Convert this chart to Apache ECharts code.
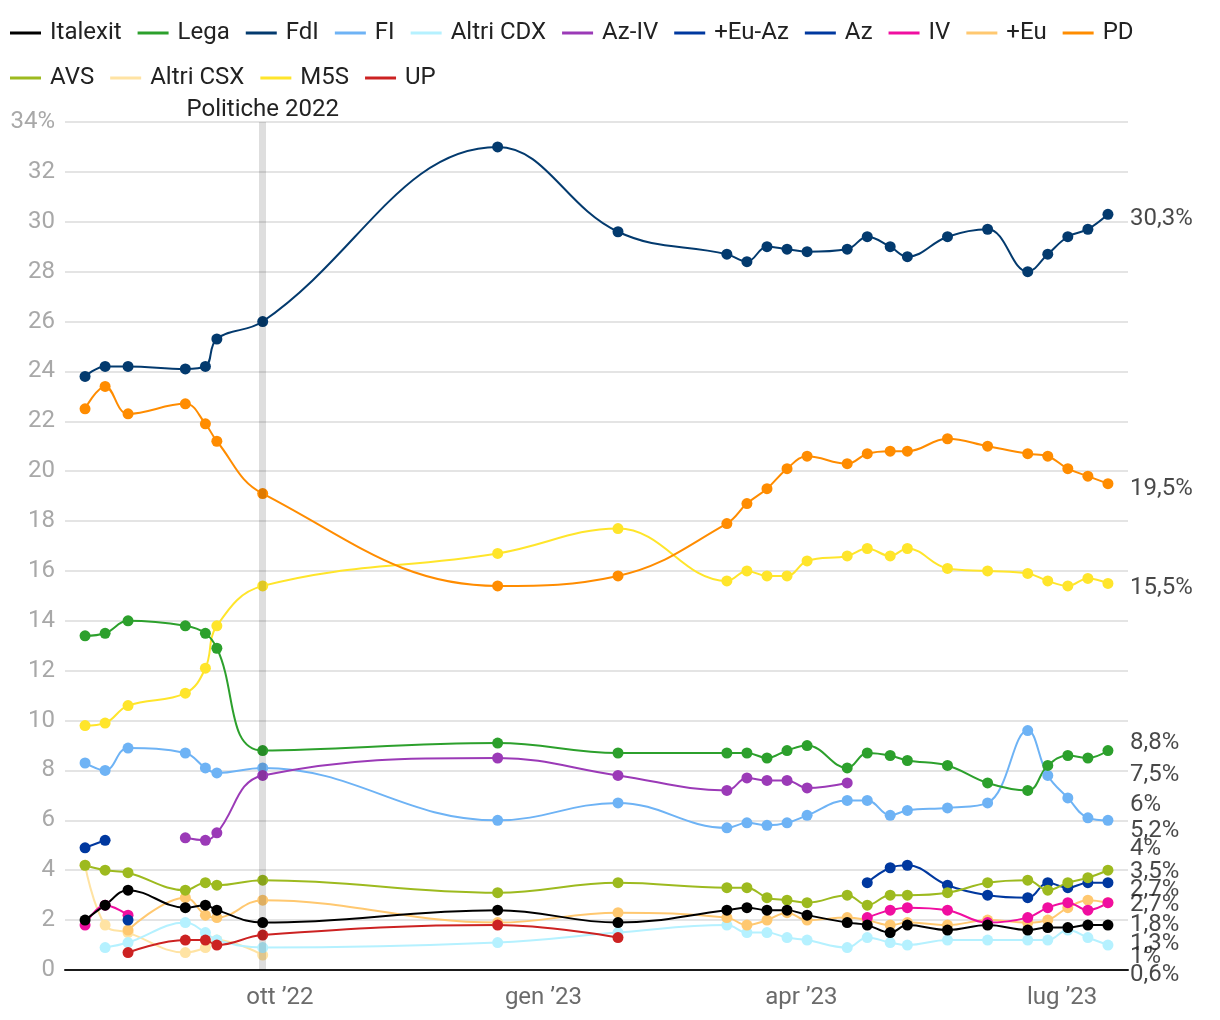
<!DOCTYPE html>
<html><head><meta charset="utf-8">
<script src="https://cdn.jsdelivr.net/npm/echarts@6/dist/echarts.min.js"></script>
<style>html,body{margin:0;padding:0;background:#fff}#chart{width:1220px;height:1020px}</style>
</head><body><div id="chart"></div>
<script>
// ---------- DATA ----------
const dates = ['2022-07-25','2022-08-01','2022-08-09','2022-08-29','2022-09-05','2022-09-09','2022-09-25',
  '2022-12-16','2023-01-27','2023-03-06','2023-03-13','2023-03-20','2023-03-27','2023-04-03','2023-04-17',
  '2023-04-24','2023-05-02','2023-05-08','2023-05-22','2023-06-05','2023-06-19','2023-06-26','2023-07-03',
  '2023-07-10','2023-07-17'];
const italexit = [2.0,2.6,3.2,2.5,2.6,2.4,1.9,2.4,1.9,2.4,2.5,2.4,2.4,2.2,1.9,1.8,1.5,1.8,1.6,1.8,1.6,1.7,1.7,1.8,1.8];
const lega     = [13.4,13.5,14.0,13.8,13.5,12.9,8.8,9.1,8.7,8.7,8.7,8.5,8.8,9.0,8.1,8.7,8.6,8.4,8.2,7.5,7.2,8.2,8.6,8.5,8.8];
const fdi      = [23.8,24.2,24.2,24.1,24.2,25.3,26.0,33.0,29.6,28.7,28.4,29.0,28.9,28.8,28.9,29.4,29.0,28.6,29.4,29.7,28.0,28.7,29.4,29.7,30.3];
const fi       = [8.3,8.0,8.9,8.7,8.1,7.9,8.1,6.0,6.7,5.7,5.9,5.8,5.9,6.2,6.8,6.8,6.2,6.4,6.5,6.7,9.6,7.8,6.9,6.1,6.0];
const altriCdx = [null,0.9,1.1,1.9,1.5,1.2,0.9,1.1,1.5,1.8,1.5,1.5,1.3,1.2,0.9,1.3,1.1,1.0,1.2,1.2,1.2,1.2,1.6,1.3,1.0];
const azIv     = [null,null,null,5.3,5.2,5.5,7.8,8.5,7.8,7.2,7.7,7.6,7.6,7.3,7.5,null,null,null,null,null,null,null,null,null,null];
const euAz     = [4.9,5.2,null,null,null,null,null,null,null,null,null,null,null,null,null,null,null,null,null,null,null,null,null,null,null];
const az       = [null,null,2.0,null,null,null,null,null,null,null,null,null,null,null,null,3.5,4.1,4.2,3.4,3.0,2.9,3.5,3.3,3.5,3.5];
const iv       = [1.8,2.6,2.2,null,null,null,null,null,null,null,null,null,null,null,null,2.1,2.4,2.5,2.4,1.9,2.1,2.5,2.7,2.4,2.7];
const piuEu    = [null,null,1.6,2.9,2.2,2.1,2.8,1.9,2.3,2.1,1.8,2.0,2.3,2.0,2.1,2.0,1.8,1.9,1.8,2.0,1.9,2.0,2.5,2.8,2.7];
const pd       = [22.5,23.4,22.3,22.7,21.9,21.2,19.1,15.4,15.8,17.9,18.7,19.3,20.1,20.6,20.3,20.7,20.8,20.8,21.3,21.0,20.7,20.6,20.1,19.8,19.5];
const avs      = [4.2,4.0,3.9,3.2,3.5,3.4,3.6,3.1,3.5,3.3,3.3,2.9,2.8,2.7,3.0,2.6,3.0,3.0,3.1,3.5,3.6,3.2,3.5,3.7,4.0];
const altriCsx = [4.2,1.8,1.5,0.7,0.9,1.2,0.6,null,null,null,null,null,null,null,null,null,null,null,null,null,null,null,null,null,null];
const m5s      = [9.8,9.9,10.6,11.1,12.1,13.8,15.4,16.7,17.7,15.6,16.0,15.8,15.8,16.4,16.6,16.9,16.6,16.9,16.1,16.0,15.9,15.6,15.4,15.7,15.5];
const up       = [null,null,0.7,1.2,1.2,1.0,1.4,1.8,1.3,null,null,null,null,null,null,null,null,null,null,null,null,null,null,null,null];

const legendRow1 = ['Italexit','Lega','FdI','FI','Altri CDX','Az-IV','+Eu-Az','Az','IV','+Eu','PD'];
const legendRow2 = ['AVS','Altri CSX','M5S','UP'];
const monthNames = ['gen','feb','mar','apr','mag','giu','lug','ago','set','ott','nov','dic'];
const labelledMonths = [0,3,6,9];
const yTopLabelSuffix = '%';
const electionDate = '2022-09-25';
const electionLabel = 'Politiche 2022';
const xMin = '2022-07-18';
const xMax = '2023-07-24';

// ---------- STYLE ----------
const FONT = 'Roboto';
const FS = 24;
// draw order: first = bottom
const seriesDefs = [
  {name:'Altri CSX', values: altriCsx, color:'#ffe3a3'},
  {name:'Altri CDX', values: altriCdx, color:'#b5f1ff'},
  {name:'+Eu',       values: piuEu,    color:'#ffc870'},
  {name:'UP',        values: up,       color:'#cc2222'},
  {name:'M5S',       values: m5s,      color:'#ffe52b'},
  {name:'PD',        values: pd,       color:'#ff8c00'},
  {name:'FdI',       values: fdi,      color:'#033a6e'},
  {name:'FI',        values: fi,       color:'#6eb3f5'},
  {name:'Lega',      values: lega,     color:'#2ca02c'},
  {name:'Az-IV',     values: azIv,     color:'#9b3ab7'},
  {name:'+Eu-Az',    values: euAz,     color:'#00389f'},
  {name:'IV',        values: iv,       color:'#f00ea0'},
  {name:'Az',        values: az,       color:'#00389f'},
  {name:'AVS',       values: avs,      color:'#9dba1f'},
  {name:'Italexit',  values: italexit, color:'#000000'}
];
const labelNudge = {
  'FdI':5,'PD':5,'M5S':5,'Lega':-8,'Az-IV':-8,'FI':-15,'+Eu-Az':-9,'AVS':-21,'Az':-11,
  'IV':-13,'+Eu':2,'Italexit':0,'UP':6,'Altri CDX':12,'Altri CSX':20
};

function lastVal(arr){ for(let i=arr.length-1;i>=0;i--) if(arr[i]!=null) return arr[i]; return null; }
const fmtPct = v => String(v).replace('.', ',') + '%';

const chart = echarts.init(document.getElementById('chart'), null, {renderer:'canvas'});

const lineSeries = seriesDefs.map(s => ({
  name: s.name,
  type: 'line',
  data: dates.map((d,i) => [d, s.values[i] == null ? '-' : s.values[i]]),
  smooth: 0.4,
  symbol: 'circle',
  symbolSize: 11,
  showSymbol: true,
  showAllSymbol: true,
  connectNulls: false,
  color: s.color,
  itemStyle: {color: s.color},
  lineStyle: {color: s.color, width: 2},
  emphasis: {disabled: true},
  silent: true,
  animation: false
}));

// election marker on top series
lineSeries[lineSeries.length-1].markLine = {
  silent: true,
  symbol: ['none','none'],
  z: 10,
  lineStyle: {color: 'rgba(0,0,0,0.13)', width: 7, type: 'solid'},
  label: {show: true, position: 'end', formatter: electionLabel, color: '#222', fontSize: FS, fontFamily: FONT, distance: 0},
  emphasis: {disabled: true},
  data: [{xAxis: electionDate}]
};

const endLabels = {
  type: 'scatter',
  name: 'endLabels',
  symbolSize: 0,
  silent: true,
  z: 20,
  animation: false,
  data: seriesDefs.map(s => {
    const v = lastVal(s.values);
    return {
      name: fmtPct(v),
      value: [xMax, v],
      label: {offset: [0, labelNudge[s.name] || 0]}
    };
  }),
  label: {show: true, position: 'right', distance: 2, formatter: '{b}', color: '#1a1a1a', fontSize: FS, fontFamily: FONT}
};

const legendBase = {
  left: 10, icon: 'rect', itemWidth: 31, itemHeight: 3, itemGap: 16, padding: 0,
  selectedMode: false,
  textStyle: {fontSize: FS, color: '#222', fontFamily: FONT, padding: [0,0,0,4], lineHeight: 24}
};

chart.setOption({
  backgroundColor: '#fff',
  animation: false,
  textStyle: {fontFamily: FONT},
  legend: [
    Object.assign({}, legendBase, {top: 21, data: legendRow1}),
    Object.assign({}, legendBase, {top: 66, data: legendRow2})
  ],
  grid: {left: 65, right: 92, top: 122, bottom: 50, containLabel: false, outerBoundsMode: 'none'},
  xAxis: {
    type: 'time',
    min: xMin, max: xMax,
    splitNumber: 12,
    axisLine: {show: true, lineStyle: {color: '#1a1a1a', width: 2}},
    axisTick: {show: false},
    splitLine: {show: false},
    axisLabel: {
      color: '#6b6b6b', fontSize: FS, fontFamily: FONT, margin: 16, hideOverlap: false,
      showMinLabel: false, showMaxLabel: false,
      formatter: function(value){
        const d = new Date(value);
        if (d.getDate() === 1 && labelledMonths.indexOf(d.getMonth()) >= 0) {
          return monthNames[d.getMonth()] + ' \u2019' + String(d.getFullYear()).slice(2);
        }
        return '';
      }
    }
  },
  yAxis: {
    type: 'value', min: 0, max: 34, interval: 2,
    axisLine: {show: false}, axisTick: {show: false},
    splitLine: {show: true, lineStyle: {color: '#e4e4e4', width: 2}},
    axisLabel: {color: '#a8a8a8', fontSize: FS, fontFamily: FONT, margin: 10,
      formatter: v => v === 34 ? v + yTopLabelSuffix : String(v)}
  },
  series: lineSeries.concat([endLabels])
});
</script></body></html>
